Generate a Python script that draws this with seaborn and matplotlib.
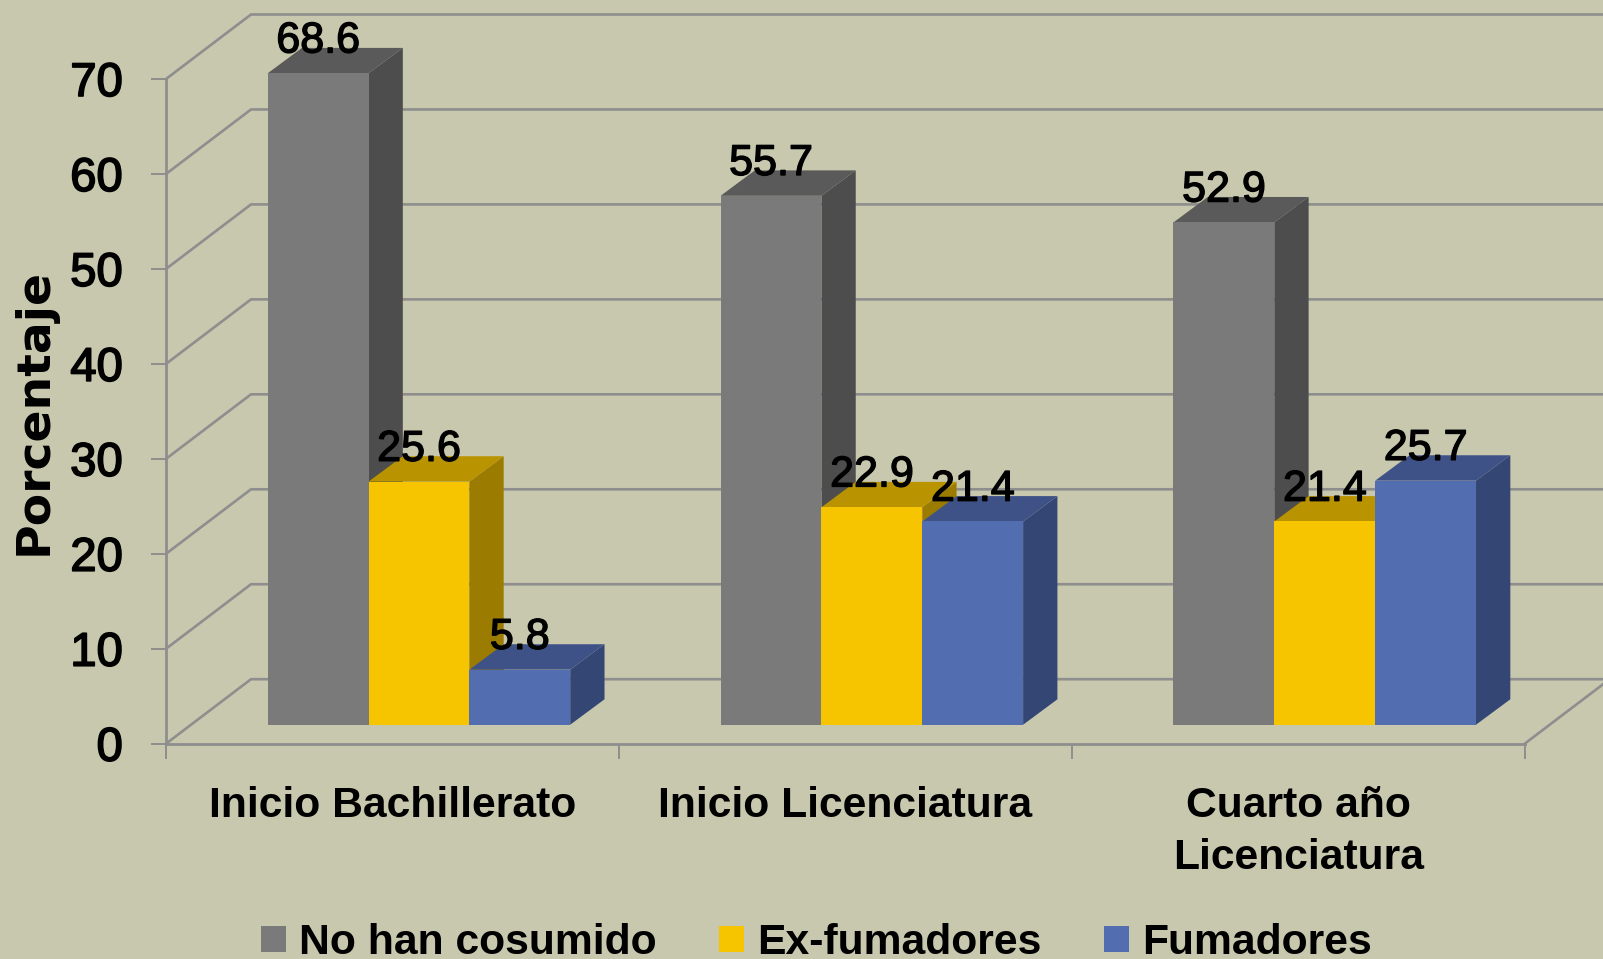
import matplotlib
matplotlib.use('Agg')
import matplotlib.pyplot as plt
import matplotlib.patheffects as pe
import seaborn as sns
import pandas as pd

categories = ['Inicio Bachillerato', 'Inicio Licenciatura', 'Cuarto año\nLicenciatura']
series_names = ['No han cosumido', 'Ex-fumadores', 'Fumadores']
no_han = [68.6, 55.7, 52.9]
ex_fumadores = [25.6, 22.9, 21.4]
fumadores = [5.8, 21.4, 25.7]
y_ticks = [0, 10, 20, 30, 40, 50, 60, 70]

BG = '#C8C8AE'
GRID = '#8E8E8E'
front = ['#7A7A7A', '#F7C400', '#526DB0']
side = ['#4D4D4D', '#9C7C00', '#344673']
top = ['#5A5A5A', '#BA9400', '#3F5287']

rows = []
for name, vals in zip(series_names, [no_han, ex_fumadores, fumadores]):
    for c, v in zip(categories, vals):
        rows.append({'etapa': c, 'serie': name, 'pct': v})
df = pd.DataFrame(rows)

sns.set_theme(style='white')
plt.rcParams['font.family'] = ['Liberation Sans', 'DejaVu Sans']
plt.rcParams['text.color'] = 'black'
plt.rcParams['axes.labelcolor'] = 'black'
plt.rcParams['xtick.labelcolor'] = 'black'
plt.rcParams['ytick.labelcolor'] = 'black'

W, H = 1603, 959
fig = plt.figure(figsize=(W / 100, H / 100), dpi=100, facecolor=BG)
ax = fig.add_axes([166 / W, (H - 743.7) / H, 1358.7 / W, 664.7 / H], facecolor='none')

# offsets of the fake 3d, in data units
ux = 452.9
uy = 664.7 / 70
wall_dx, wall_dy = 85 / ux, 64.5 / uy
bar_dx, bar_dy = 34.3 / ux, 25.4 / uy
shift_x, shift_y = 26.5 / ux, 19 / uy

sns.barplot(data=df, x='etapa', y='pct', hue='serie', hue_order=series_names,
            order=categories, palette=front, width=0.668, gap=0, saturation=1,
            bottom=shift_y, linewidth=0, ax=ax, legend=False)
ax.set_xlim(-0.5, 2.5)
ax.set_ylim(0, 70)

# walls
line = dict(color=GRID, lw=1.9, clip_on=False, zorder=1)
for t in y_ticks:
    ax.plot([-0.5, -0.5 + wall_dx, 3.0], [t, t + wall_dy, t + wall_dy], **line)
ax.plot([2.5, 2.5 + wall_dx], [0, wall_dy], **line)

# depth faces
all_vals = [no_han, ex_fumadores, fumadores]
for i, cont in enumerate(ax.containers):
    for p in cont:
        p.set_x(p.get_x() + shift_x)
        p.set_zorder(3 + i)
        p.set_clip_on(False)
        x0, x1 = p.get_x(), p.get_x() + p.get_width()
        y0, y1 = p.get_y(), p.get_y() + p.get_height()
        ax.fill([x1, x1 + bar_dx, x1 + bar_dx, x1], [y0, y0 + bar_dy, y1 + bar_dy, y1],
                color=side[i], lw=0, clip_on=False, zorder=2.5 + i)
        ax.fill([x0, x1, x1 + bar_dx, x0 + bar_dx], [y1, y1, y1 + bar_dy, y1 + bar_dy],
                color=top[i], lw=0, clip_on=False, zorder=2.5 + i)
    labels = ax.bar_label(cont, labels=[f'{v:.1f}' for v in all_vals[i]], padding=8.5,
                          fontsize=31, color='black', zorder=10, annotation_clip=False)
    for t in labels:
        t.set_path_effects([pe.withStroke(linewidth=1.0, foreground='black')])

for s in ['top', 'right']:
    ax.spines[s].set_visible(False)
for s in ['left', 'bottom']:
    ax.spines[s].set_color(GRID)
    ax.spines[s].set_linewidth(2.0)

ax.set_yticks(y_ticks)
ax.set_xticks([-0.5, 0.5, 1.5, 2.5])
ax.set_xticklabels([])
ax.set_xticks([0, 1, 2], minor=True)
ax.set_xticklabels(categories, minor=True, fontweight='bold', fontsize=30.7, linespacing=1.39)
ax.tick_params(axis='x', which='major', length=10.5, width=1.4, color=GRID, bottom=True)
ax.tick_params(axis='x', which='minor', length=0, pad=30.5, bottom=True)
ax.tick_params(axis='y', length=10.5, width=1.4, color=GRID, left=True, pad=20.5, labelsize=34)
for t in ax.get_yticklabels():
    t.set_path_effects([pe.withStroke(linewidth=1.2, foreground='black')])

ax.set_xlabel('')
ax.set_ylabel('Porcentaje', family='DejaVu Sans', fontweight='bold', fontsize=34, labelpad=10)

# legend
handles = [plt.Rectangle((0, 0), 1, 1, color=c, lw=0) for c in front]
leg = ax.legend(handles, series_names, ncol=3, frameon=False, loc='lower left',
                bbox_to_anchor=(261 / W, -4 / H), bbox_transform=fig.transFigure,
                prop={'weight': 'bold', 'size': 30.7},
                handlelength=0.59, handleheight=0.59, handletextpad=0.3, columnspacing=1.47,
                borderpad=0, borderaxespad=0)

fig.savefig('out.png', dpi=100, facecolor=BG)
